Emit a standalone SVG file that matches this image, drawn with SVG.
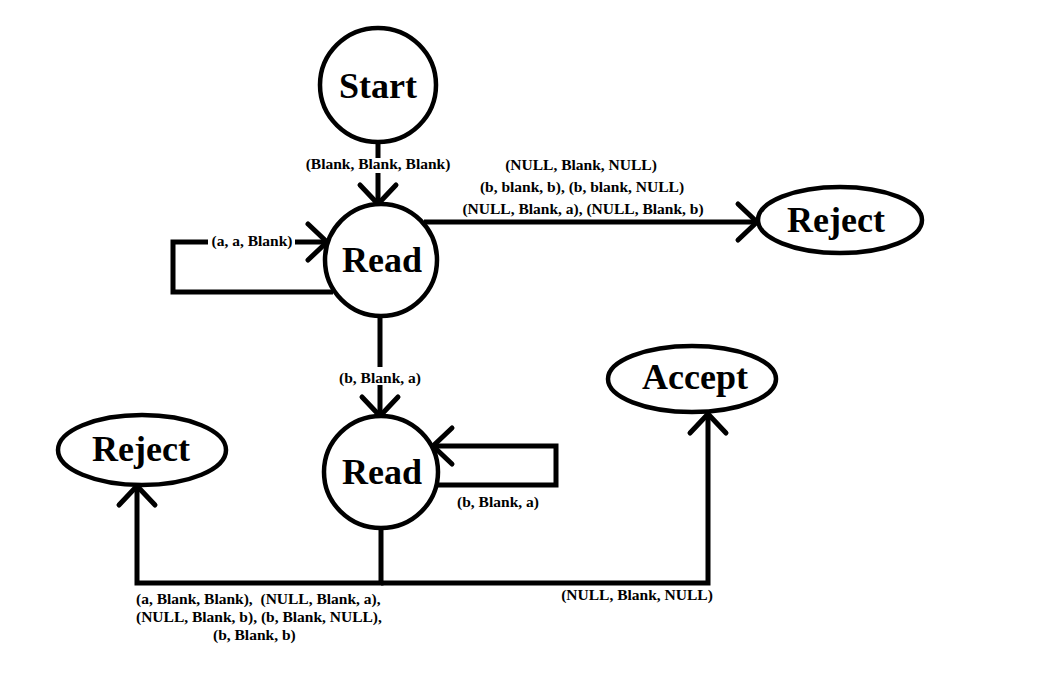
<svg xmlns="http://www.w3.org/2000/svg" width="1052" height="700" viewBox="0 0 1052 700">
<style>
.node{fill:#fff;stroke:#000;stroke-width:4.5}
.nt{font-family:"Liberation Serif","Times New Roman",serif;font-weight:bold;font-size:36px;text-anchor:middle;fill:#000}
.lbl{font-family:"Liberation Serif","Times New Roman",serif;font-weight:bold;font-size:15.5px;fill:#000}
.c{text-anchor:middle}
.edge{fill:none;stroke:#000;stroke-width:5;stroke-linejoin:miter;marker-end:url(#arr)}
</style>
<defs>
<marker id="arr" markerUnits="userSpaceOnUse" markerWidth="50" markerHeight="50" viewBox="-25 -25 50 50" refX="0" refY="0" orient="auto" overflow="visible">
<path d="M-19,-18 L0,0 L-19,18" fill="none" stroke="#000" stroke-width="5" stroke-linecap="round"/>
</marker>
</defs>
<rect width="1052" height="700" fill="#fff"/>
<g id="connectors">
<path class="edge" d="M378,143 V158 M378,173 V204"/>
<path class="edge" d="M333,292 H173 V242 H208 M295,242 H327"/>
<path class="edge" d="M424,222 H757"/>
<path class="edge" d="M380,316 V367 M380,385 V416"/>
<path class="edge" d="M437,485 H556 V446 H433"/>
<path class="edge" d="M381,528 V583 H137 V486"/>
<path class="edge" d="M381,583 H708 V414"/>
</g>
<g id="labels">
<text class="lbl c" x="378" y="169">(Blank, Blank, Blank)</text>
<text class="lbl c" x="252" y="246">(a, a, Blank)</text>
<text class="lbl c" x="581" y="170">(NULL, Blank, NULL)</text>
<text class="lbl c" x="582" y="192">(b, blank, b), (b, blank, NULL)</text>
<text class="lbl c" x="583" y="214">(NULL, Blank, a), (NULL, Blank, b)</text>
<text class="lbl c" x="380" y="383">(b, Blank, a)</text>
<text class="lbl c" x="498" y="507">(b, Blank, a)</text>
<text class="lbl" x="136" y="604" xml:space="preserve">(a, Blank, Blank),  (NULL, Blank, a),</text>
<text class="lbl" x="136" y="622">(NULL, Blank, b), (b, Blank, NULL),</text>
<text class="lbl" x="213" y="640">(b, Blank, b)</text>
<text class="lbl c" x="637" y="600">(NULL, Blank, NULL)</text>
</g>
<g id="start"><ellipse class="node" cx="378" cy="85" rx="58" ry="57"/><text class="nt" x="378" y="98">Start</text></g>
<g id="read1"><circle class="node" cx="381" cy="260" r="56"/><text class="nt" x="382" y="272">Read</text></g>
<g id="read2"><ellipse class="node" cx="381" cy="472" rx="57" ry="56"/><text class="nt" x="382" y="484">Read</text></g>
<g id="reject1"><ellipse class="node" cx="840" cy="220" rx="82" ry="33"/><text class="nt" x="836" y="232">Reject</text></g>
<g id="reject2"><ellipse class="node" cx="142" cy="450" rx="84" ry="35"/><text class="nt" x="141" y="461">Reject</text></g>
<g id="accept"><ellipse class="node" cx="692" cy="379" rx="84" ry="33"/><text class="nt" x="695" y="389">Accept</text></g>
</svg>
